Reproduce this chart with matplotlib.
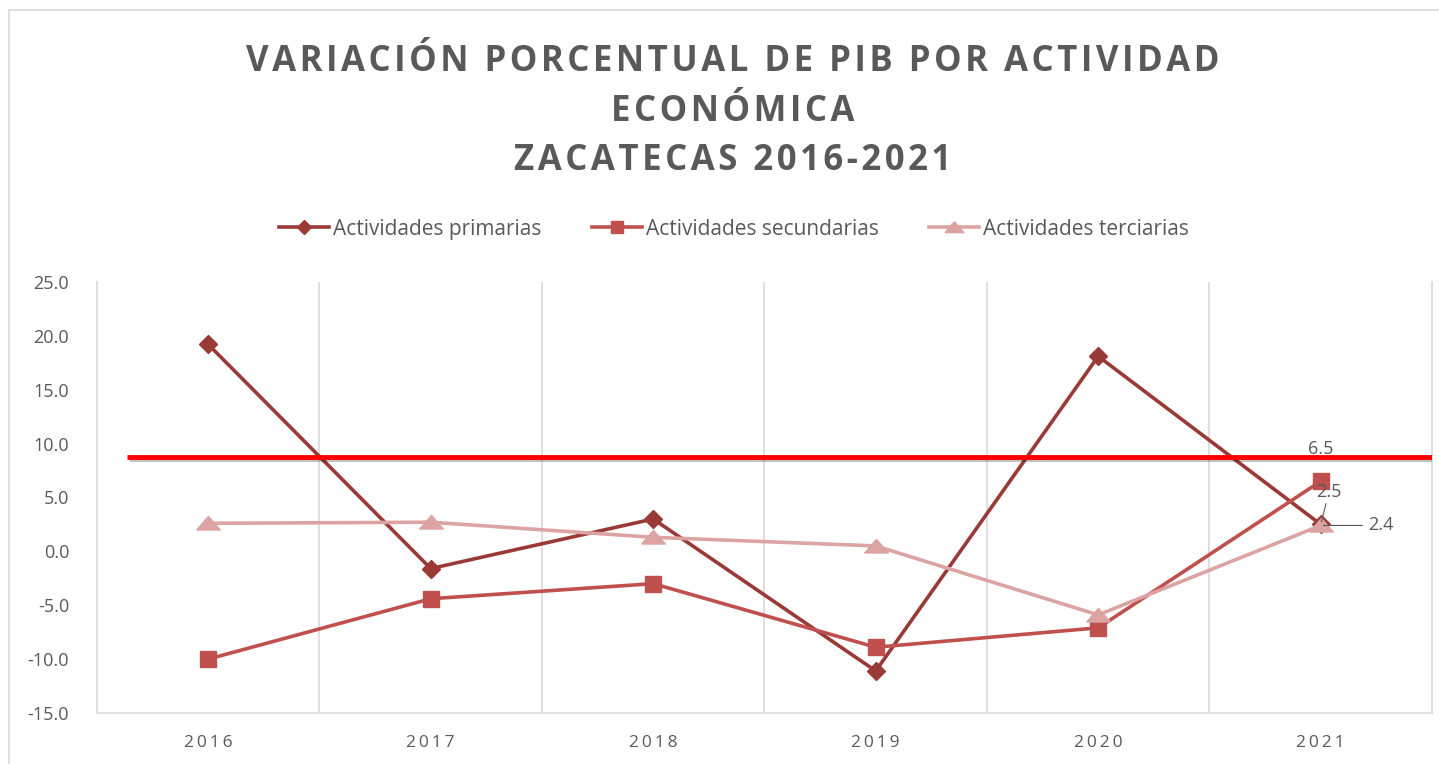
import numpy as np
import matplotlib.pyplot as plt
import matplotlib.patheffects as pe
from matplotlib.patches import Rectangle

plt.rcParams['font.family'] = ['Open Sans', 'DejaVu Sans']

years = ['2016', '2017', '2018', '2019', '2020', '2021']
primarias = [19.2, -1.6, 3.0, -11.1, 18.1, 2.5]
secundarias = [-10.0, -4.4, -3.0, -8.9, -7.1, 6.5]
terciarias = [2.6, 2.7, 1.3, 0.5, -5.9, 2.4]
referencia = 8.75

gris = '#595959'
x = np.arange(len(years))


def espaciar(texto, sep='\u200a'):
    # letter spacing imitation
    return sep.join(texto)


# flat triangle like the spreadsheet marker
triangulo = [(-1, -0.55), (1, -0.55), (0, 0.6), (-1, -0.55)]

fig = plt.figure(figsize=(14.39, 7.64), dpi=100)
ax = fig.add_axes([0.0674, 0.0668, 0.9277, 0.5642])

ax.plot(x, primarias, color='#993A37', lw=2.6, marker='D', ms=9,
        label='Actividades primarias', zorder=3)
ax.plot(x, secundarias, color='#C0504D', lw=2.6, marker='s', ms=11,
        label='Actividades secundarias', zorder=3)
ax.plot(x, terciarias, color='#DBA3A2', lw=2.6, marker=triangulo, ms=17,
        label='Actividades terciarias', zorder=3)

# red reference line (drawn shape in the original)
ax.plot([-0.365, 5.5], [referencia, referencia], color='#FF0000', lw=3.5,
        solid_capstyle='butt', zorder=4,
        path_effects=[pe.SimpleLineShadow(offset=(1.5, -1.5), alpha=0.25),
                      pe.Normal()])

# data labels for 2021
ax.annotate(f'{secundarias[5]:.1f}', (5, secundarias[5]), xytext=(0, 17),
            textcoords='offset points', ha='center', va='bottom',
            fontsize=13, color=gris, zorder=5)
ax.annotate(f'{primarias[5]:.1f}', (5, primarias[5]), xytext=(6, 17),
            textcoords='offset points', ha='center', va='bottom',
            fontsize=13, color=gris, zorder=5,
            arrowprops=dict(arrowstyle='-', color=gris, lw=0.8,
                            shrinkA=0, shrinkB=2))
ax.annotate(f'{terciarias[5]:.1f}', (5, terciarias[5]), xytext=(34, 0),
            textcoords='offset points', ha='left', va='center',
            fontsize=13, color=gris, zorder=5,
            arrowprops=dict(arrowstyle='-', color=gris, lw=0.8,
                            shrinkA=2, shrinkB=2))

ax.set_xlim(-0.5, 5.5)
ax.set_ylim(-15, 25)
ax.set_yticks(np.arange(-15, 26, 5))
ax.set_yticklabels([f'{v:.1f}' for v in np.arange(-15, 26, 5)])
ax.set_xticks(x)
ax.set_xticklabels([espaciar(y, '\u2009') for y in years])
for lab in ax.get_xticklabels():
    lab.set_fontfamily(['Open Sans', 'DejaVu Sans'])
ax.set_xticks(np.arange(0.5, 5.5, 1), minor=True)
ax.grid(which='minor', axis='x', color='#D9D9D9', lw=1.2)
ax.tick_params(which='both', length=0)
ax.tick_params(axis='y', labelsize=13, labelcolor=gris, pad=20)
ax.tick_params(axis='x', labelsize=12.5, labelcolor=gris, pad=16)
ax.spines['top'].set_visible(False)
for s in ['left', 'bottom', 'right']:
    ax.spines[s].set_color('#D9D9D9')
    ax.spines[s].set_linewidth(1.2)

titulo = ['VARIACIÓN PORCENTUAL DE PIB POR ACTIVIDAD', 'ECONÓMICA',
          'ZACATECAS 2016-2021']
fig.text(0.509, 0.942, '\n'.join(espaciar(t) for t in titulo),
         ha='center', va='top', fontsize=25, fontweight='bold', color=gris,
         linespacing=1.5)

leg = fig.legend(loc='center', bbox_to_anchor=(0.51, 0.70), ncol=3, frameon=False,
                 fontsize=15, handlelength=2.4, columnspacing=2.4, handletextpad=0.2,
                 markerscale=0.8)
for t in leg.get_texts():
    t.set_color(gris)

fig.patches.append(Rectangle((0.006, -0.02), 1.2, 1.007, transform=fig.transFigure,
                             fill=False, edgecolor='#D9D9D9', lw=1.2))

fig.savefig('out.png', dpi=100)
